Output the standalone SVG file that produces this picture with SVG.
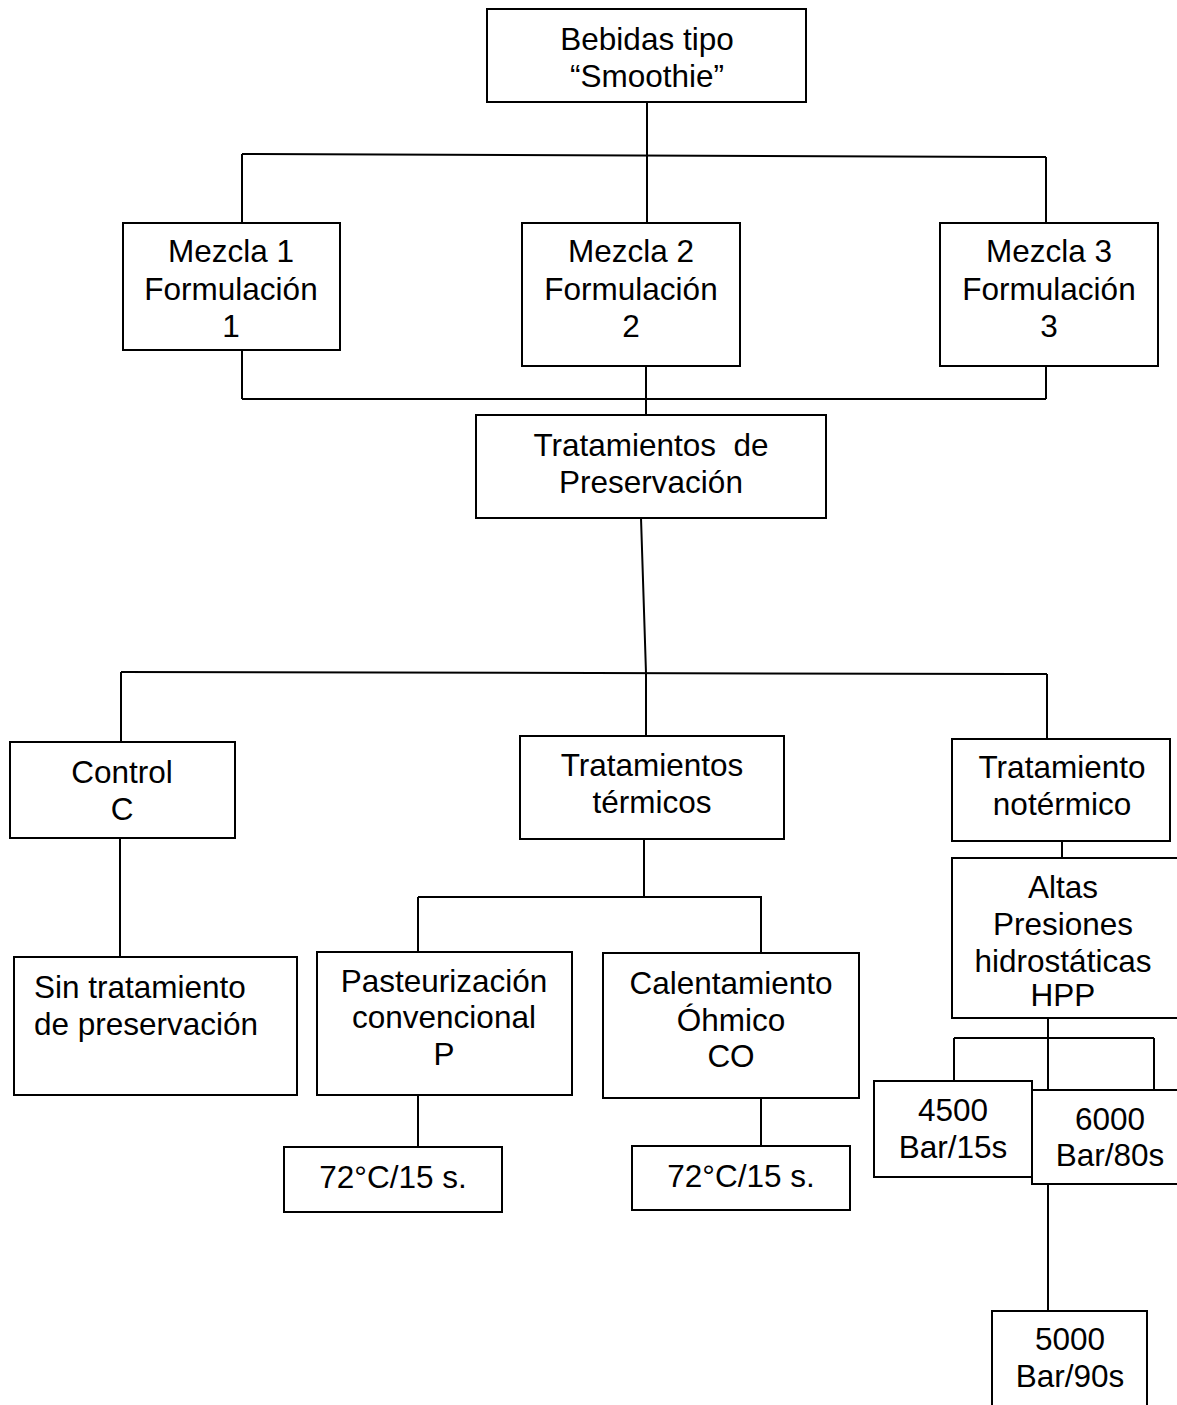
<svg xmlns="http://www.w3.org/2000/svg" width="1177" height="1405" viewBox="0 0 1177 1405">
  <style>
    .box { fill: #ffffff; stroke: #000000; stroke-width: 2; }
    .wire { fill: none; stroke: #000000; stroke-width: 2; }
    text { font-family: "Liberation Sans", Arial, sans-serif; font-size: 31.5px; fill: #000000; }
    .c { text-anchor: middle; }
  </style>
  <rect width="1177" height="1405" fill="#ffffff"/>

  <!-- connectors -->
  <g id="connectors" class="wire">
    <!-- root to blends -->
    <line x1="647" y1="102" x2="647" y2="223"/>
    <line x1="242" y1="154" x2="1046" y2="157"/>
    <line x1="242" y1="154" x2="242" y2="223"/>
    <line x1="1046" y1="157" x2="1046" y2="223"/>
    <!-- blends to preservation -->
    <line x1="242" y1="350" x2="242" y2="399"/>
    <line x1="1046" y1="366" x2="1046" y2="399"/>
    <line x1="242" y1="399" x2="1046" y2="399"/>
    <line x1="646" y1="366" x2="646" y2="415"/>
    <!-- preservation to treatments -->
    <polyline points="641,518 646,673 646,736"/>
    <line x1="121" y1="672" x2="1047" y2="674"/>
    <line x1="121" y1="672" x2="121" y2="742"/>
    <line x1="1047" y1="674" x2="1047" y2="739"/>
    <!-- control -->
    <line x1="120" y1="838" x2="120" y2="957"/>
    <!-- thermal -->
    <line x1="644" y1="839" x2="644" y2="897"/>
    <line x1="418" y1="897" x2="762" y2="897"/>
    <line x1="418" y1="897" x2="418" y2="952"/>
    <line x1="761" y1="897" x2="761" y2="953"/>
    <line x1="418" y1="1095" x2="418" y2="1147"/>
    <line x1="761" y1="1098" x2="761" y2="1146"/>
    <!-- non-thermal -->
    <line x1="1062" y1="841" x2="1062" y2="858"/>
    <line x1="1048" y1="1018" x2="1048" y2="1090"/>
    <line x1="954" y1="1038" x2="1154" y2="1038"/>
    <line x1="954" y1="1038" x2="954" y2="1081"/>
    <line x1="1154" y1="1038" x2="1154" y2="1090"/>
    <line x1="1048" y1="1184" x2="1048" y2="1311"/>
  </g>

  <g id="smoothie">
    <rect class="box" x="487" y="9" width="319" height="93"/>
    <text class="c" x="647" y="50">Bebidas tipo</text>
    <text class="c" x="647" y="87">“Smoothie”</text>
  </g>

  <g id="mezcla1">
    <rect class="box" x="123" y="223" width="217" height="127"/>
    <text class="c" x="231" y="262">Mezcla 1</text>
    <text class="c" x="231" y="300">Formulación</text>
    <text class="c" x="231" y="337">1</text>
  </g>

  <g id="mezcla2">
    <rect class="box" x="522" y="223" width="218" height="143"/>
    <text class="c" x="631" y="262">Mezcla 2</text>
    <text class="c" x="631" y="300">Formulación</text>
    <text class="c" x="631" y="337">2</text>
  </g>

  <g id="mezcla3">
    <rect class="box" x="940" y="223" width="218" height="143"/>
    <text class="c" x="1049" y="262">Mezcla 3</text>
    <text class="c" x="1049" y="300">Formulación</text>
    <text class="c" x="1049" y="337">3</text>
  </g>

  <g id="preservacion">
    <rect class="box" x="476" y="415" width="350" height="103"/>
    <text class="c" x="651" y="456" xml:space="preserve">Tratamientos  de</text>
    <text class="c" x="651" y="493">Preservación</text>
  </g>

  <g id="control">
    <rect class="box" x="10" y="742" width="225" height="96"/>
    <text class="c" x="122" y="783">Control</text>
    <text class="c" x="122" y="820">C</text>
  </g>

  <g id="termicos">
    <rect class="box" x="520" y="736" width="264" height="103"/>
    <text class="c" x="652" y="776">Tratamientos</text>
    <text class="c" x="652" y="813">térmicos</text>
  </g>

  <g id="notermico">
    <rect class="box" x="952" y="739" width="218" height="102"/>
    <text class="c" x="1062" y="778">Tratamiento</text>
    <text class="c" x="1062" y="815">notérmico</text>
  </g>

  <g id="sin-tratamiento">
    <rect class="box" x="14" y="957" width="283" height="138"/>
    <text x="34" y="998">Sin tratamiento</text>
    <text x="34" y="1035">de preservación</text>
  </g>

  <g id="pasteurizacion">
    <rect class="box" x="317" y="952" width="255" height="143"/>
    <text class="c" x="444" y="992">Pasteurización</text>
    <text class="c" x="444" y="1028">convencional</text>
    <text class="c" x="444" y="1065">P</text>
  </g>

  <g id="ohmico">
    <rect class="box" x="603" y="953" width="256" height="145"/>
    <text class="c" x="731" y="994">Calentamiento</text>
    <text class="c" x="731" y="1031">Óhmico</text>
    <text class="c" x="731" y="1067">CO</text>
  </g>

  <g id="p-condicion">
    <rect class="box" x="284" y="1147" width="218" height="65"/>
    <text class="c" x="393" y="1188">72°C/15 s.</text>
  </g>

  <g id="co-condicion">
    <rect class="box" x="632" y="1146" width="218" height="64"/>
    <text class="c" x="741" y="1187">72°C/15 s.</text>
  </g>

  <g id="hpp">
    <rect class="box" x="952" y="858" width="238" height="160"/>
    <text class="c" x="1063" y="898">Altas</text>
    <text class="c" x="1063" y="935">Presiones</text>
    <text class="c" x="1063" y="972">hidrostáticas</text>
    <text class="c" x="1063" y="1006">HPP</text>
  </g>

  <g id="hpp-4500">
    <rect class="box" x="874" y="1081" width="158" height="96"/>
    <text class="c" x="953" y="1121">4500</text>
    <text class="c" x="953" y="1158">Bar/15s</text>
  </g>

  <g id="hpp-6000">
    <rect class="box" x="1032" y="1090" width="158" height="94"/>
    <text class="c" x="1110" y="1130">6000</text>
    <text class="c" x="1110" y="1166">Bar/80s</text>
  </g>

  <g id="hpp-5000">
    <rect class="box" x="992" y="1311" width="155" height="110"/>
    <text class="c" x="1070" y="1350">5000</text>
    <text class="c" x="1070" y="1387">Bar/90s</text>
  </g>
</svg>
